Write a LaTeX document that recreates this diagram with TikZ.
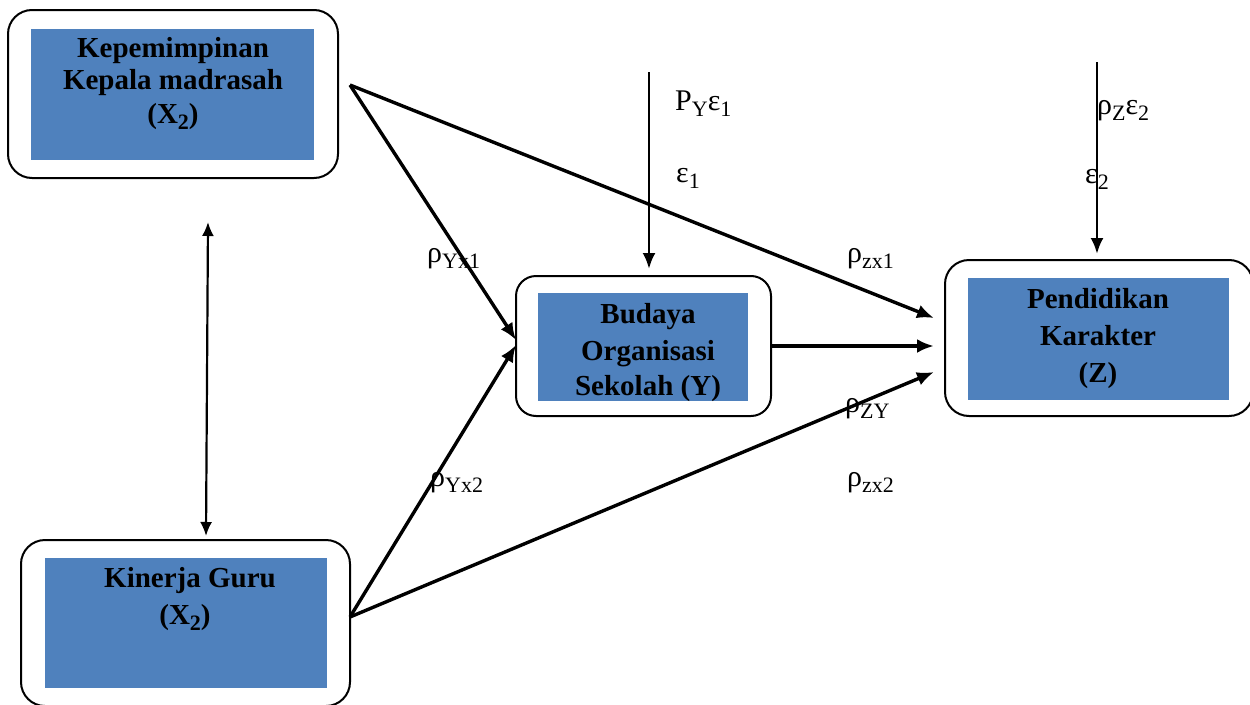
\documentclass[tikz,border=0pt]{standalone}
\usepackage{fontspec}
\setmainfont{Liberation Serif}
\usetikzlibrary{arrows.meta,calc}
\definecolor{boxblue}{HTML}{4F81BD}
\newcommand{\sbs}[1]{\raisebox{-0.2em}{\fontsize{22}{22}\selectfont #1}}
\newcommand{\bsbs}[1]{\raisebox{-0.22em}{\fontsize{22}{22}\selectfont\bfseries #1}}
\begin{document}
\begin{tikzpicture}[x=1pt,y=-1pt,
  outer/.style={draw,line width=2pt,rounded corners=24pt,fill=white},
  inner/.style={fill=boxblue,inner sep=0pt},
  ttl/.style={font=\fontsize{29}{34}\selectfont\bfseries,anchor=base,inner sep=0pt},
  lab/.style={font=\fontsize{30}{30}\selectfont,anchor=base west,inner sep=0pt},
  conn/.style={line width=3.4pt,-{Latex[length=17pt,width=14pt]}},
  vconn/.style={line width=2.8pt,-{Latex[length=16pt,width=13pt]}},
  dconn/.style={line width=2.2pt,{Latex[length=14pt,width=12pt]}-{Latex[length=14pt,width=12pt]}},
]
\useasboundingbox (0,0) rectangle (1250,704);
% boxes
\node[outer,minimum width=330pt,minimum height=168pt] (x1o) at (173,94) {};
\node[inner,minimum width=283pt,minimum height=131pt] (x1i) at (172.5,94.5) {};
\node[outer,minimum width=329pt,minimum height=166pt] (x2o) at (185.5,623) {};
\node[inner,minimum width=282pt,minimum height=130pt] (x2i) at (186,623) {};
\node[outer,minimum width=255pt,minimum height=140pt,rounded corners=20pt] (yo) at (643.5,346) {};
\node[inner,minimum width=210pt,minimum height=108pt] (yi) at (643,347) {};
\node[outer,minimum width=308pt,minimum height=156pt] (zo) at (1099,338) {};
\node[inner,minimum width=261pt,minimum height=122pt] (zi) at (1098.5,339) {};
% box texts
\node[ttl] (t11) at (173,57) {Kepemimpinan};
\node[ttl] (t12) at (173,89) {Kepala madrasah};
\node[ttl] (t13) at (173,123) {(X\bsbs{2})};
\node[ttl] (t21) at (190,587) {Kinerja Guru};
\node[ttl] (t22) at (185,624) {(X\bsbs{2})};
\node[ttl] (t31) at (648,323) {Budaya};
\node[ttl] (t32) at (648,360) {Organisasi};
\node[ttl] (t33) at (648,395) {Sekolah (Y)};
\node[ttl] (t41) at (1098,308) {Pendidikan};
\node[ttl] (t42) at (1098,345) {Karakter};
\node[ttl] (t43) at (1098,382) {(Z)};
% free ends
\coordinate (a1) at (350,85);
\coordinate (a2) at (350,617);
\coordinate (d1) at (208,222);
\coordinate (e1) at (649,72);
\coordinate (e2) at (1097,62);
% connectors
\draw[dconn] (d1) -- ($(x2o.north)+(20.5,-3)$);
\draw[conn] (a1) -- ($(yo.west)+(1,-6)$);
\draw[conn] (a1) -- ($(zo.west)+(-10,-20)$);
\draw[conn] (a2) -- ($(yo.west)+(1,-1)$);
\draw[conn] (a2) -- ($(zo.west)+(-10,34)$);
\draw[conn] (yo.east) -- ($(zo.west)+(-10,8)$);
\draw[vconn] (e1) -- ($(yo.north)+(5.5,-6)$);
\draw[vconn] (e2) -- ($(zo.north)+(-2,-5)$);
% labels
\node[lab] (l1) at (675,110) {P\sbs{Y}ε\sbs{1}};
\node[lab] (l2) at (676,182) {ε\sbs{1}};
\node[lab] (l3) at (1097,114) {ρ\sbs{Z}ε\sbs{2}};
\node[lab] (l4) at (1085,183) {ε\sbs{2}};
\node[lab] (l5) at (427,262) {ρ\sbs{Yx1}};
\node[lab] (l6) at (847,262) {ρ\sbs{zx1}};
\node[lab] (l7) at (845,412) {ρ\sbs{ZY}};
\node[lab] (l8) at (430,486) {ρ\sbs{Yx2}};
\node[lab] (l9) at (847,486) {ρ\sbs{zx2}};
\end{tikzpicture}
\end{document}
